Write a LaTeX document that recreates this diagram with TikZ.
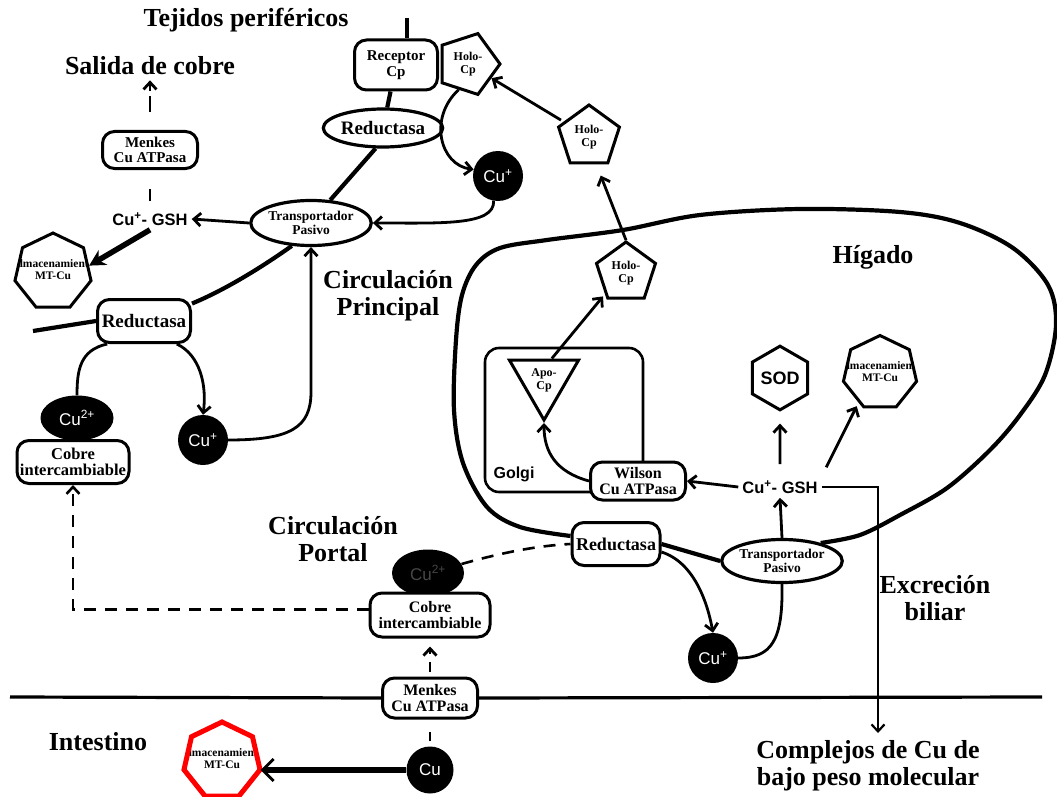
\documentclass[tikz,border=0pt]{standalone}
\usepackage{fontspec}
\setmainfont{Liberation Serif}
\setsansfont{Liberation Sans}
\usetikzlibrary{shapes.geometric,arrows.meta,calc}
\pgfdeclarelayer{back}
\pgfdeclarelayer{bg}
\pgfsetlayers{back,bg,main}
\newcommand{\myfs}[2]{\fontsize{#1}{#2}\selectfont}
\begin{document}
\begin{tikzpicture}[x=1pt,y=-1pt,
  title/.style={font=\bfseries\myfs{26}{27}, align=center, inner sep=0pt},
  rbox/.style={rectangle, draw, line width=3pt, rounded corners=12pt, fill=white, align=center, inner sep=0pt},
  oval/.style={ellipse, draw, line width=3.2pt, fill=white, align=center, inner sep=0pt},
  blob/.style={ellipse, fill=black, inner sep=0pt, font=\sffamily\myfs{17}{17}},
  ion/.style={circle, fill=black, text=white, inner sep=0pt, minimum size=50pt, font=\sffamily\myfs{17}{17}},
  pent/.style={regular polygon, regular polygon sides=5, draw, line width=3pt, fill=white, inner sep=0pt, align=center, font=\bfseries\myfs{12}{13}},
  hept/.style={regular polygon, regular polygon sides=7, draw, line width=3pt, fill=white, inner sep=0pt, minimum size=78pt},
  hlab/.style={font=\bfseries\myfs{11.5}{12}, align=center, inner sep=0pt},
  memb/.style={line width=4.2pt},
  conn/.style={line width=2.8pt},
  arr/.style={line width=2.8pt, -{Straight Barb[length=7pt,width=13pt]}},
  dsh/.style={line width=2.6pt, dash pattern=on 12pt off 9pt},
  gsh/.style={font=\sffamily\bfseries\myfs{16.5}{17}, inner sep=4pt},
  thickarr/.style={line width=5.5pt, -{Stealth[length=16pt,width=17pt]}},
  thickbarb/.style={line width=5.5pt, -{Straight Barb[length=11pt,width=22pt,line width=2.8pt]}}
]
\begin{pgfonlayer}{back}
\fill[white] (0,0) rectangle (1057,797);
\end{pgfonlayer}
\useasboundingbox (0,0) rectangle (1057,797);

% ---------- titles ----------
\node[title] (tejidos) at (246,20) {Tejidos periféricos};
\node[title] (salida) at (150,66) {Salida de cobre};
\node[title] (circP) at (388,296) {Circulación\\Principal};
\node[title] (higado) at (873,257) {Hígado};
\node[title] (circPo) at (333,539) {Circulación\\Portal};
\node[title] (excr) at (935,598) {Excreción\\biliar};
\node[title] (compl) at (868,766) {Complejos de Cu de\\bajo peso molecular};
\node[title] (intest) at (98,742) {Intestino};

% ---------- peripheral tissue ----------
\node[rbox, minimum width=83pt, minimum height=50pt, font=\bfseries\myfs{15}{16}] (recep) at (396,65) {Receptor\\Cp};
\node[pent, minimum size=64pt, shape border rotate=-90] (holoA) at (468,64) {Holo-\\Cp};
\node[oval, minimum width=96pt, minimum height=38pt, font=\bfseries\myfs{19}{19}] (redT) at (383,128) {Reductasa};
\node[ion] (cuA) at (498,176) {Cu\textsuperscript{+}};
\node[oval, minimum width=98pt, minimum height=45pt, font=\bfseries\myfs{13.5}{14}] (transT) at (311,223) {Transportador\\Pasivo};
\node[gsh] (gshL) at (150,219) {Cu\textsuperscript{+}- GSH};
\node[rbox, minimum width=95pt, minimum height=37pt, font=\bfseries\myfs{15}{15}] (menkT) at (150,150) {Menkes\\Cu ATPasa};
\node[hept, path picture={\node[hlab] (almLt) at (path picture bounding box.center) {Almacenamiento\\MT-Cu};}] (almL) at (53,272) {};
\node[rbox, minimum width=93pt, minimum height=43pt, font=\bfseries\myfs{19}{19}] (redL) at (144,321) {Reductasa};
\node[blob, minimum width=73pt, minimum height=45pt, text=white] (cu2L) at (77,418) {Cu\textsuperscript{2+}};
\node[rbox, minimum width=112pt, minimum height=43pt, font=\bfseries\myfs{16.5}{16}] (cobL) at (73,462) {Cobre\\intercambiable};
\node[ion] (cuB) at (203,440) {Cu\textsuperscript{+}};

% ---------- liver ----------
\node[pent, minimum size=64pt] (holoB) at (589,137) {Holo-\\Cp};
\node[pent, minimum size=62pt] (holoC) at (626,273) {Holo-\\Cp};
\node[draw, line width=2.6pt, rounded corners=14pt, minimum width=158pt, minimum height=144pt, inner sep=0pt] (golgi) at (564,420) {};
\node[font=\sffamily\bfseries\myfs{16}{16}] (golgiL) at (514,474) {Golgi};
\node[regular polygon, regular polygon sides=3, shape border rotate=180, draw, line width=3pt, fill=white, inner sep=0pt, minimum size=80pt, align=center, font=\bfseries\myfs{12}{13}] (apo) at (544,380) {Apo-\\Cp};
\node[rbox, minimum width=95pt, minimum height=38pt, font=\bfseries\myfs{16}{16}] (wil) at (638,481) {Wilson\\Cu ATPasa};
\node[gsh] (gshR) at (780,487) {Cu\textsuperscript{+}- GSH};
\node[regular polygon, regular polygon sides=6, shape border rotate=30, draw, line width=3pt, fill=white, inner sep=0pt, minimum size=56pt, font=\sffamily\bfseries\myfs{18}{18}] (sod) at (780,378) {SOD};
\node[hept, minimum size=75pt, path picture={\node[hlab] (almRt) at (path picture bounding box.center) {Almacenamiento\\MT-Cu};}] (almR) at (880,373) {};
\node[rbox, minimum width=88pt, minimum height=43pt, font=\bfseries\myfs{18}{18}] (redR) at (616,544) {Reductasa};
\node[oval, minimum width=99pt, minimum height=43pt, font=\bfseries\myfs{13.5}{14}] (transR) at (782,561) {Transportador\\Pasivo};
\node[ion] (cuC) at (713,658) {Cu\textsuperscript{+}};

% ---------- portal / intestine ----------
\node[blob, minimum width=72pt, minimum height=47pt, text=black!72] (cu2P) at (428,573) {Cu\textsuperscript{2+}};
\node[rbox, minimum width=120pt, minimum height=44pt, font=\bfseries\myfs{16}{16}] (cobP) at (430,615) {Cobre\\intercambiable};
\node[rbox, minimum width=95pt, minimum height=40pt, font=\bfseries\myfs{16}{16}] (menkB) at (430,698) {Menkes\\Cu ATPasa};
\node[ion, minimum size=47pt] (cuD) at (430,770) {Cu};
\node[hept, draw=red, line width=5pt, path picture={\node[hlab] (almBt) at (path picture bounding box.center) {Almacenamiento\\MT-Cu};}] (almB) at (222,761) {};

% ---------- free ends ----------
\coordinate (topL) at (407,18);
\coordinate (mL) at (33,331);
\coordinate (iL) at (10,697);
\coordinate (iR) at (1042,697);
\coordinate (bil) at (878,733);
\coordinate (bend1) at (311,392);

% ---------- membranes ----------
\begin{pgfonlayer}{bg}
\draw[memb] (topL) -- (topL |- recep.north);
\draw[memb] (recep) -- (redT);
\draw[memb] (redT.250) -- (transT.50);
\draw[memb] (transT.230) .. controls (255,272) and (220,292) .. (redL.20);
\draw[memb] (mL) -- (redL.west);
\draw[memb] plot[smooth, tension=0.55] coordinates {(redR.170) (520,527) (487,507) (463,463) (454,410) (456,340) (462,295) (476,265) (500,248) (547,240) (623,230) (700,215) (800,209) (900,212) (960,223) (1013,248) (1048,285) (1056,325) (1045,375) (1020,415) (990,450) (947,488) (900,515) (860,535) (transR.25)};
\draw[memb] (redR.east) -- (transR.west);
\draw[line width=3.2pt] (iL) -- (menkB.west);
\draw[line width=3.2pt] (menkB.east) -- (iR);
\end{pgfonlayer}

% ---------- connectors: peripheral ----------
\draw[arr] (holoA.250) .. controls (428,118) and (440,165) .. (cuA.165);
\draw[arr] (cuA.-100) .. controls (495,226) and (440,223) .. (transT.east);
\draw[arr] (transT.west) -- (gshL.east);
\draw[conn, shorten <=7pt, shorten >=19pt] (gshL.north) -- (menkT.south);
\draw[arr, dash pattern=on 16pt off 5pt, shorten <=18pt, shorten >=5pt] (menkT.north) -- (salida.south);
\draw[thickarr] (gshL.south) -- (almL.10);
\draw[conn] (redL.212) .. controls (80,350) and (77,370) .. (cu2L.north);
\draw[arr] (redL.-35) .. controls (200,355) and (207,385) .. (cuB.north);
\draw[arr] (cuB.east) .. controls (290,440) and (311,428) .. (bend1) -- (transT.south);

% ---------- connectors: liver ----------
\draw[arr, shorten <=3pt] (holoB) -- (holoA);
\draw[arr, shorten >=12pt] (holoC.north) -- (holoB.-75);
\draw[arr, shorten >=3pt] (apo.70) -- (holoC.225);
\draw[arr] (wil.west) .. controls (556,472) and (544,452) .. (apo.south);
\draw[arr] (gshR.west) -- (wil.east);
\draw[arr, shorten <=12pt, shorten >=12pt] (gshR.north) -- (sod.south);
\draw[arr, shorten <=10pt, shorten >=4pt] (gshR.north east) -- (almR.234);
\draw[arr] (transR.north) -- (gshR.south);
\draw[line width=2.2pt, -{Straight Barb[length=7pt,width=13pt]}] (gshR.east) -| (bil);
\draw[arr] (redR.-10) .. controls (693,562) and (707,600) .. (cuC.north);
\draw[conn] (cuC.east) .. controls (772,658) and (783,640) .. (transR.south);

% ---------- connectors: portal / intestine ----------
\draw[dsh] (cu2P.15) .. controls (490,556) and (530,546) .. (redR.west);
\draw[dsh, -{Straight Barb[length=7pt,width=13pt]}] (cobP.175) -- (cobP.175 -| cobL.south) -- (cobL.south);
\draw[arr, dash pattern=on 10pt off 8pt, shorten <=5pt, shorten >=8pt] (menkB.north) -- (cobP.south);
\draw[conn, shorten <=5pt, shorten >=12pt] (cuD.north) -- (menkB.south);
\draw[thickbarb] (cuD.west) -- (cuD.west -| almB.east);
\end{tikzpicture}
\end{document}
